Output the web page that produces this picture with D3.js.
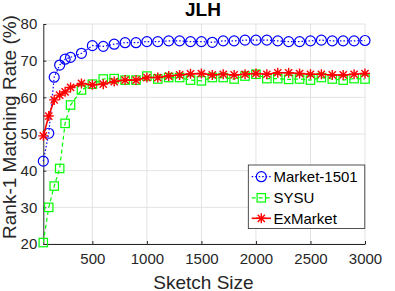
<!DOCTYPE html>
<html>
<head>
<meta charset="utf-8">
<script src="https://cdn.jsdelivr.net/npm/d3@7"></script>
<style>
  body { margin: 0; background: #fff; }
  svg { display: block; font-family: "Liberation Sans", Arial, sans-serif; }
</style>
</head>
<body>
<svg width="395" height="291"></svg>
<script>
// sketch sizes
var sizes = [50, 100, 150, 200, 250, 300, 400, 500, 600, 700, 800, 900, 1000,
  1100, 1200, 1300, 1400, 1500, 1600, 1700, 1800, 1900, 2000, 2100, 2200,
  2300, 2400, 2500, 2600, 2700, 2800, 2900, 3000];

var market = [42.6, 50.2, 65.5, 68.8, 70.4, 70.9, 72.0, 74.1, 73.9, 74.5, 74.9, 74.9, 75.2,
  75.2, 75.4, 75.4, 75.2, 75.2, 75.0, 75.4, 75.4, 75.6, 75.6, 75.6, 75.4,
  75.2, 75.2, 75.4, 75.6, 75.4, 75.4, 75.4, 75.5];

var sysu = [20.4, 30.0, 35.8, 40.6, 52.9, 57.9, 62.0, 63.6, 65.0, 65.1, 64.7, 64.7, 65.8,
  65.0, 65.4, 65.4, 64.7, 64.5, 65.4, 65.4, 65.0, 65.8, 66.3, 65.1, 65.1,
  64.9, 65.0, 64.7, 65.4, 65.0, 64.7, 65.1, 65.0];

var exmarket = [49.5, 54.9, 59.3, 60.6, 61.5, 62.7, 63.8, 63.4, 63.6, 64.3, 64.7, 64.7, 65.4,
  65.4, 65.8, 66.1, 66.4, 66.5, 66.1, 66.3, 66.1, 66.3, 66.5, 66.3, 66.7,
  66.7, 66.5, 66.3, 66.3, 66.1, 66.1, 66.3, 66.5];

var xTicks = [500, 1000, 1500, 2000, 2500, 3000];
var yTicks = [20, 30, 40, 50, 60, 70, 80];

var series = [
  {name: "Market-1501", values: market, color: "#0000ff", dash: "1.5,2", marker: "circle"},
  {name: "SYSU", values: sysu, color: "#00ff00", dash: "4,3", marker: "square"},
  {name: "ExMarket", values: exmarket, color: "#ff0000", dash: null, marker: "star"}
];

var svg = d3.select("svg"),
    textColor = "#262626",
    plotLeft = 43.3, plotRight = 365, plotTop = 24, plotBottom = 244;

var x = d3.scaleLinear().domain([50, 3000]).range([plotLeft, plotRight]);
var y = d3.scaleLinear().domain([20, 80]).range([plotBottom, plotTop]);

// grid
var grid = svg.append("g").attr("stroke", "#e3e3e3").attr("stroke-width", 1);
grid.selectAll("line.gx").data(xTicks).enter().append("line")
  .attr("x1", function(d) { return x(d); }).attr("x2", function(d) { return x(d); })
  .attr("y1", plotTop).attr("y2", plotBottom);
grid.selectAll("line.gy").data(yTicks).enter().append("line")
  .attr("x1", plotLeft).attr("x2", plotRight)
  .attr("y1", function(d) { return y(d); }).attr("y2", function(d) { return y(d); });

// axes
var xAxis = svg.append("g")
  .attr("transform", "translate(0," + plotBottom + ")")
  .call(d3.axisBottom(x).tickValues(xTicks).tickFormat(d3.format("d"))
    .tickSizeInner(-3).tickSizeOuter(0).tickPadding(9));
var yAxis = svg.append("g")
  .attr("transform", "translate(" + plotLeft + ",0)")
  .call(d3.axisLeft(y).tickValues(yTicks).tickFormat(d3.format("d"))
    .tickSizeInner(-3).tickSizeOuter(0).tickPadding(6));

[xAxis, yAxis].forEach(function(a) {
  a.select(".domain").attr("stroke", textColor).attr("stroke-width", 1);
  a.selectAll(".tick line").attr("stroke", textColor);
  a.selectAll(".tick text").attr("fill", textColor).attr("font-size", 15)
    .attr("font-family", "Liberation Sans, Arial, sans-serif");
});

// lines and markers
var line = d3.line()
  .x(function(d, i) { return x(sizes[i]); })
  .y(function(d) { return y(d); });

function drawMarker(g, type, color, cx, cy) {
  if (type === "circle") {
    g.append("circle").attr("cx", cx).attr("cy", cy).attr("r", 5)
      .attr("fill", "none").attr("stroke", color).attr("stroke-width", 1.2);
  } else if (type === "square") {
    g.append("rect").attr("x", cx - 4.2).attr("y", cy - 4.2)
      .attr("width", 8.4).attr("height", 8.4)
      .attr("fill", "none").attr("stroke", color).attr("stroke-width", 1.2);
  } else {
    var r = 5, s = r * 0.72;
    g.append("path")
      .attr("d", "M" + (cx - r) + "," + cy + "L" + (cx + r) + "," + cy +
        "M" + cx + "," + (cy - r) + "L" + cx + "," + (cy + r) +
        "M" + (cx - s) + "," + (cy - s) + "L" + (cx + s) + "," + (cy + s) +
        "M" + (cx - s) + "," + (cy + s) + "L" + (cx + s) + "," + (cy - s))
      .attr("stroke", color).attr("stroke-width", 1.4).attr("fill", "none");
  }
}

series.forEach(function(s) {
  var g = svg.append("g");
  g.append("path")
    .datum(s.values)
    .attr("d", line)
    .attr("fill", "none")
    .attr("stroke", s.color)
    .attr("stroke-width", s.marker === "star" ? 1.6 : 1.2)
    .attr("stroke-dasharray", s.dash);
  s.values.forEach(function(v, i) {
    drawMarker(g, s.marker, s.color, x(sizes[i]), y(v));
  });
});

// title and labels
svg.append("text").attr("x", 203).attr("y", 15.5)
  .attr("text-anchor", "middle").attr("font-weight", "bold").attr("font-size", 19)
  .attr("fill", "#000").text("JLH");

svg.append("text").attr("x", 203.5).attr("y", 288.5)
  .attr("text-anchor", "middle").attr("font-size", 19).attr("fill", textColor)
  .text("Sketch Size");

svg.append("text").attr("transform", "translate(15.5,127) rotate(-90)")
  .attr("text-anchor", "middle").attr("font-size", 19).attr("fill", textColor)
  .text("Rank-1 Matching Rate (%)");

// legend
var legend = svg.append("g");
legend.append("rect").attr("x", 248.3).attr("y", 165).attr("width", 116.5).attr("height", 63.5)
  .attr("fill", "#fff").attr("stroke", "#262626").attr("stroke-width", 0.8);
var rowY = [176.7, 197.8, 218.3];
series.forEach(function(s, i) {
  var ly = rowY[i];
  legend.append("line").attr("x1", 251.7).attr("x2", 271).attr("y1", ly).attr("y2", ly)
    .attr("stroke", s.color).attr("stroke-width", s.marker === "star" ? 1.6 : 1.2)
    .attr("stroke-dasharray", s.dash);
  drawMarker(legend, s.marker, s.color, 261.3, ly);
  legend.append("text").attr("x", 273.5).attr("y", ly + 5.3)
    .attr("font-size", 15).attr("fill", "#000").text(s.name);
});
</script>
</body>
</html>
